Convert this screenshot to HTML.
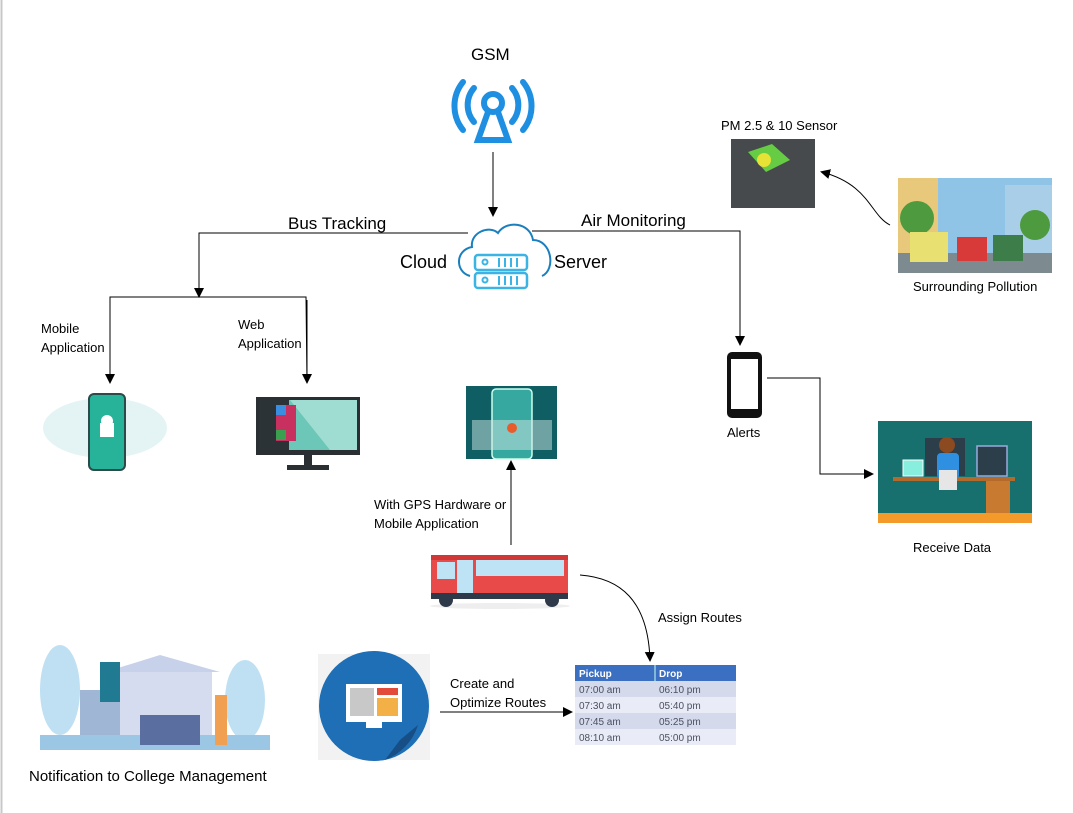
<!DOCTYPE html>
<html><head><meta charset="utf-8"><style>
html,body{margin:0;padding:0;background:#fff;}
svg{display:block;font-family:"Liberation Sans",sans-serif;}
</style></head><body>
<svg width="1073" height="813" viewBox="0 0 1073 813" xmlns="http://www.w3.org/2000/svg">
<defs>
<marker id="ah" markerWidth="10" markerHeight="10" refX="8" refY="5" orient="auto" markerUnits="userSpaceOnUse">
<path d="M0,0 L10,5 L0,10 z" fill="#000"/></marker>
</defs>
<rect x="0" y="0" width="1073" height="813" fill="#fff"/>
<line x1="1.5" y1="0" x2="1.5" y2="813" stroke="#c8c8c8" stroke-width="2"/>

<!-- GSM -->
<text x="471" y="60" font-size="17">GSM</text>
<g fill="none" stroke="#1e8fe1" stroke-width="6" stroke-linecap="round">
<path d="M474,88 A26,26 0 0 0 474,122"/>
<path d="M512,88 A26,26 0 0 1 512,122"/>
<path d="M463,82 A38,38 0 0 0 463,130"/>
<path d="M523,82 A38,38 0 0 1 523,130"/>
<circle cx="493" cy="103" r="9"/>
<path d="M488,112 L478,140 L508,140 L498,112"/>
</g>
<line x1="493" y1="152" x2="493" y2="215" stroke="#000" marker-end="url(#ah)"/>

<!-- Cloud -->
<path d="M470,276 C455,272 455,250 472,247 C470,232 490,225 498,233 C506,220 530,222 533,240 C552,240 556,270 542,276" fill="none" stroke="#1a7fbf" stroke-width="2"/>
<rect x="475" y="255" width="52" height="15" rx="3" fill="none" stroke="#3bb4e5" stroke-width="2.5"/>
<rect x="475" y="273" width="52" height="15" rx="3" fill="none" stroke="#3bb4e5" stroke-width="2.5"/>
<circle cx="485" cy="262" r="2.5" fill="none" stroke="#3bb4e5" stroke-width="2"/>
<circle cx="485" cy="280" r="2.5" fill="none" stroke="#3bb4e5" stroke-width="2"/>
<path d="M499,258v9M505,258v9M511,258v9M517,258v9M499,276v9M505,276v9M511,276v9M517,276v9" stroke="#3bb4e5" stroke-width="2"/>
<text x="400" y="268" font-size="18">Cloud</text>
<text x="554" y="268" font-size="18">Server</text>

<!-- Bus tracking -->
<text x="288" y="229" font-size="17">Bus Tracking</text>
<polyline points="468,233 199,233 199,296" fill="none" stroke="#000" marker-end="url(#ah)"/>
<polyline points="110,382 110,297 306,297 307,382" fill="none" stroke="#000"/>
<line x1="110" y1="300" x2="110" y2="382" stroke="#000" marker-end="url(#ah)"/>
<line x1="307" y1="300" x2="307" y2="382" stroke="#000" marker-end="url(#ah)"/>
<text x="41" y="333" font-size="13">Mobile</text>
<text x="41" y="352" font-size="13">Application</text>
<text x="238" y="329" font-size="13">Web</text>
<text x="238" y="348" font-size="13">Application</text>

<!-- Mobile app image -->
<ellipse cx="105" cy="428" rx="62" ry="30" fill="#e4f4f4"/>
<rect x="89" y="394" width="36" height="76" rx="5" fill="#26b39a" stroke="#2b4a4a" stroke-width="2"/>
<rect x="100" y="423" width="14" height="14" fill="#fff"/>
<circle cx="107" cy="421" r="6" fill="#fff"/>
<!-- Web monitor -->
<rect x="256" y="397" width="104" height="58" fill="#2a2f33"/>
<rect x="259" y="400" width="98" height="50" fill="#6cc7b8"/>
<path d="M290,400 L357,400 L357,450 L330,450 z" fill="#9fdcd2"/>
<rect x="259" y="400" width="30" height="50" fill="#2c3336"/>
<rect x="276" y="405" width="20" height="36" fill="#c83060"/>
<rect x="276" y="405" width="10" height="10" fill="#3a8ee0"/>
<rect x="276" y="430" width="10" height="10" fill="#3aa050"/>
<rect x="304" y="455" width="8" height="10" fill="#2a2f33"/>
<rect x="287" y="465" width="42" height="5" fill="#2a2f33"/>

<!-- Air monitoring -->
<text x="581" y="226" font-size="17">Air Monitoring</text>
<polyline points="532,231 740,231 740,344" fill="none" stroke="#000" marker-end="url(#ah)"/>

<!-- Sensor -->
<text x="721" y="130" font-size="13">PM 2.5 &amp; 10 Sensor</text>
<rect x="731" y="139" width="84" height="69" fill="#464a4c"/>
<path d="M748,152 L772,144 L790,160 L766,172 z" fill="#66cc44"/>
<circle cx="764" cy="160" r="7" fill="#e6e236"/>
<path d="M890,225 C870,215 870,185 822,172" fill="none" stroke="#000" marker-end="url(#ah)"/>

<!-- Pollution -->
<rect x="898" y="178" width="154" height="95" fill="#8fc4e6"/>
<rect x="898" y="178" width="40" height="75" fill="#e8c87a"/>
<rect x="1005" y="185" width="47" height="70" fill="#a9cfe8"/>
<circle cx="917" cy="218" r="17" fill="#4e9a3e"/>
<circle cx="1035" cy="225" r="15" fill="#4e9a3e"/>
<rect x="898" y="253" width="154" height="20" fill="#7d8a90"/>
<rect x="910" y="232" width="38" height="30" fill="#e8e070"/>
<rect x="957" y="237" width="30" height="24" fill="#d83a3a"/>
<rect x="993" y="235" width="30" height="26" fill="#3c7d4a"/>
<text x="913" y="291" font-size="13">Surrounding Pollution</text>

<!-- Alerts phone -->
<rect x="727" y="352" width="35" height="66" rx="5" fill="#111"/>
<rect x="731" y="359" width="27" height="50" fill="#fff"/>
<text x="727" y="437" font-size="13">Alerts</text>
<polyline points="767,378 820,378 820,474 872,474" fill="none" stroke="#000" marker-end="url(#ah)"/>

<!-- Receive data -->
<rect x="878" y="421" width="154" height="102" fill="#17706e"/>
<rect x="878" y="513" width="154" height="10" fill="#f39a2a"/>
<rect x="925" y="438" width="40" height="38" fill="#2c3e4a"/>
<rect x="977" y="446" width="30" height="30" fill="#2c3e4a" stroke="#9ad" stroke-width="1.5"/>
<rect x="903" y="460" width="20" height="16" fill="#8ed" stroke="#fff"/>
<rect x="893" y="477" width="122" height="4" fill="#b36a2a"/>
<rect x="986" y="481" width="24" height="32" fill="#c87a30"/>
<circle cx="947" cy="445" r="8" fill="#8b4a20"/>
<rect x="937" y="453" width="22" height="26" rx="4" fill="#2f8fe0"/>
<rect x="939" y="470" width="18" height="20" fill="#e6e6e6"/>
<text x="913" y="552" font-size="13">Receive Data</text>

<!-- Map image -->
<rect x="466" y="386" width="91" height="73" fill="#0f5e63"/>
<rect x="492" y="389" width="40" height="70" rx="4" fill="#37a8a0" stroke="#cfe" stroke-width="1.5"/>
<rect x="472" y="420" width="80" height="30" fill="#cde6e4" opacity="0.5"/>
<circle cx="512" cy="428" r="5" fill="#e85c2c"/>
<line x1="511" y1="545" x2="511" y2="462" stroke="#000" marker-end="url(#ah)"/>
<text x="374" y="509" font-size="13">With GPS Hardware or</text>
<text x="374" y="528" font-size="13">Mobile Application</text>

<!-- Bus -->
<ellipse cx="500" cy="606" rx="70" ry="3" fill="#eee"/>
<rect x="431" y="555" width="137" height="44" rx="6" fill="#e84a4a"/>
<rect x="431" y="555" width="137" height="5" fill="#d03838"/>
<rect x="437" y="562" width="18" height="17" fill="#bde3f5"/>
<rect x="457" y="560" width="16" height="33" fill="#bde3f5"/>
<rect x="476" y="560" width="88" height="16" fill="#bde3f5"/>
<rect x="431" y="593" width="137" height="6" fill="#2e3a4a"/>
<circle cx="446" cy="600" r="7" fill="#2e3a4a"/>
<circle cx="552" cy="600" r="7" fill="#2e3a4a"/>
<path d="M580,575 C620,578 648,600 650,660" fill="none" stroke="#000" marker-end="url(#ah)"/>
<text x="658" y="622" font-size="13">Assign Routes</text>

<!-- College -->
<ellipse cx="60" cy="690" rx="20" ry="45" fill="#bfe0f2"/>
<ellipse cx="245" cy="700" rx="20" ry="40" fill="#bfe0f2"/>
<rect x="112" y="670" width="100" height="80" fill="#d5dcef"/>
<path d="M105,672 L160,655 L220,672 z" fill="#c7d1ea"/>
<rect x="80" y="690" width="40" height="55" fill="#9fb7d5"/>
<rect x="100" y="662" width="20" height="40" fill="#1f7a92"/>
<rect x="40" y="735" width="230" height="15" fill="#9bc7e4"/>
<rect x="215" y="695" width="12" height="50" fill="#f0a050"/>
<rect x="140" y="715" width="60" height="30" fill="#5a6f9f"/>
<text x="29" y="781" font-size="15">Notification to College Management</text>

<!-- Monitor circle -->
<rect x="318" y="654" width="112" height="106" fill="#f2f2f2"/>
<circle cx="374" cy="706" r="55" fill="#1e6fb5"/>
<path d="M400,740 L418,725 A55,55 0 0 1 385,760 z" fill="#164e85"/>
<rect x="346" y="684" width="56" height="38" fill="#fff"/>
<rect x="350" y="688" width="24" height="28" fill="#c8c8c8"/>
<rect x="377" y="688" width="21" height="7" fill="#e24b3a"/>
<rect x="377" y="698" width="21" height="18" fill="#f2b046"/>
<rect x="366" y="722" width="16" height="6" fill="#fff"/>
<line x1="440" y1="712" x2="571" y2="712" stroke="#000" marker-end="url(#ah)"/>
<text x="450" y="688" font-size="13">Create and</text>
<text x="450" y="707" font-size="13">Optimize Routes</text>

<!-- Table -->
<rect x="575" y="665" width="161" height="16" fill="#3a6fc2"/>
<line x1="655" y1="665" x2="655" y2="681" stroke="#cfe" stroke-width="1"/>
<rect x="575" y="681" width="161" height="16" fill="#d4d9ec"/>
<rect x="575" y="697" width="161" height="16" fill="#e9ecf6"/>
<rect x="575" y="713" width="161" height="16" fill="#d4d9ec"/>
<rect x="575" y="729" width="161" height="16" fill="#e9ecf6"/>
<g font-size="10" fill="#fff" font-weight="bold"><text x="579" y="677">Pickup</text><text x="659" y="677">Drop</text></g>
<g font-size="10" fill="#4a5060">
<text x="579" y="693">07:00 am</text><text x="659" y="693">06:10 pm</text>
<text x="579" y="709">07:30 am</text><text x="659" y="709">05:40 pm</text>
<text x="579" y="725">07:45 am</text><text x="659" y="725">05:25 pm</text>
<text x="579" y="741">08:10 am</text><text x="659" y="741">05:00 pm</text>
</g>
</svg>
</body></html>
